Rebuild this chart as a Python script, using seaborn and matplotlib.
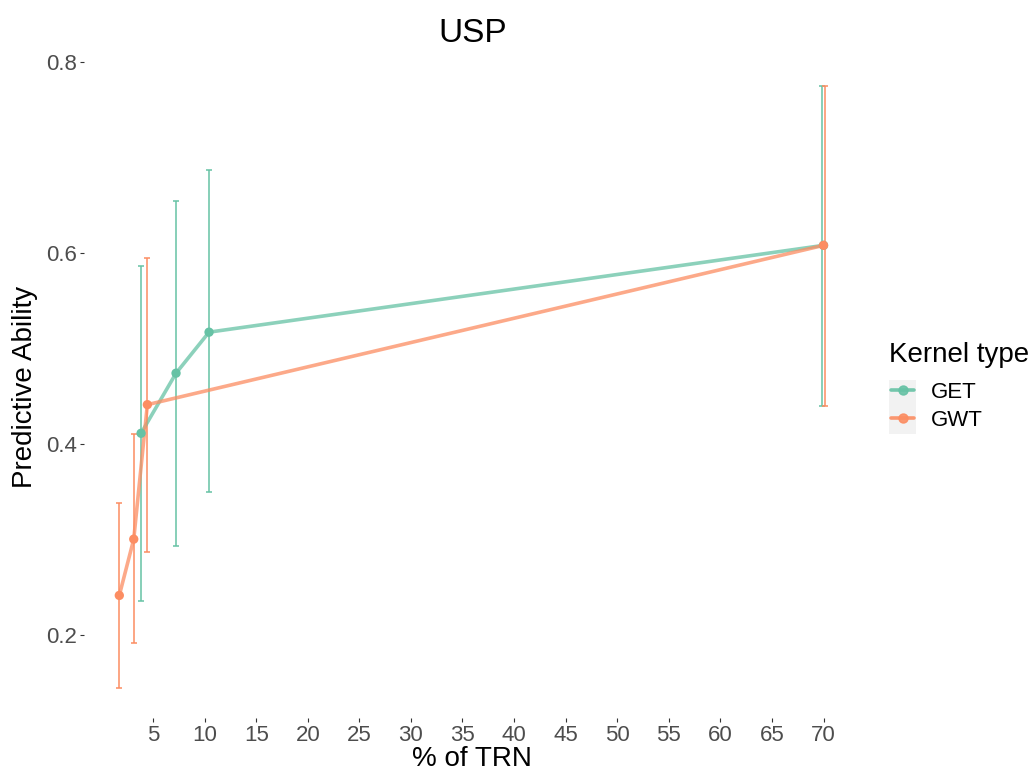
import matplotlib
matplotlib.use("Agg")
import matplotlib.pyplot as plt
from matplotlib.lines import Line2D
from matplotlib.patches import Rectangle
import seaborn as sns
import pandas as pd
import numpy as np

# ---- data ----
kernels = ["GET", "GWT"]
get_x = [3.84, 7.23, 10.43, 70.0]
get_y = [0.411, 0.474, 0.517, 0.608]
get_lo = [0.235, 0.293, 0.349, 0.440]
get_hi = [0.586, 0.655, 0.687, 0.775]
gwt_x = [1.73, 3.13, 4.45, 70.0]
gwt_y = [0.241, 0.300, 0.441, 0.608]
gwt_lo = [0.144, 0.191, 0.286, 0.440]
gwt_hi = [0.338, 0.410, 0.595, 0.775]
x_ticks = [5, 10, 15, 20, 25, 30, 35, 40, 45, 50, 55, 60, 65, 70]
y_ticks = [0.2, 0.4, 0.6, 0.8]
colors = {"GET": "#66C2A5", "GWT": "#FC8D62"}

df = pd.DataFrame({
    "x": get_x + gwt_x,
    "y": get_y + gwt_y,
    "lo": get_lo + gwt_lo,
    "hi": get_hi + gwt_hi,
    "Kernel type": ["GET"] * len(get_x) + ["GWT"] * len(gwt_x),
})

sns.set_theme(style="white")
plt.rcParams["font.family"] = ["Liberation Sans", "DejaVu Sans"]

fig = plt.figure(figsize=(10.32, 7.72), dpi=100)
ax = fig.add_axes([0.0814, 0.0699, 0.7526, 0.8576])

# dodge error bars only where both kernels share an x value
dodge = {"GET": -0.18, "GWT": 0.18}
shared = set(get_x) & set(gwt_x)
for k in kernels:
    sub = df[df["Kernel type"] == k]
    xs = np.array([x + dodge[k] if x in shared else x for x in sub["x"]])
    ax.errorbar(xs, sub["y"],
                yerr=[sub["y"] - sub["lo"], sub["hi"] - sub["y"]],
                fmt="none", ecolor=colors[k], elinewidth=1.3, capsize=2,
                capthick=1.3, alpha=0.85, zorder=1)

sns.lineplot(data=df, x="x", y="y", hue="Kernel type", palette=colors,
             linewidth=2.6, alpha=0.75, ax=ax, legend=False, sort=True,
             estimator=None, zorder=2)
sns.scatterplot(data=df, x="x", y="y", hue="Kernel type", palette=colors,
                s=45, linewidth=0, ax=ax, legend=False, zorder=3)

# ggplot-like expansion
xmin = df["x"].min()
xmax = df["x"].max() + max(dodge.values())
xr = xmax - xmin
ax.set_xlim(xmin - 0.05 * xr, xmax + 0.05 * xr)
ymin, ymax = df["lo"].min(), df["hi"].max()
yr = ymax - ymin
ax.set_ylim(ymin - 0.05 * yr, ymax + 0.05 * yr)

ax.set_xticks(x_ticks)
ax.set_xticklabels([str(v) for v in x_ticks])
ax.set_yticks(y_ticks)
ax.set_yticklabels([f"{v:.1f}" for v in y_ticks])
ax.tick_params(axis="both", which="major", length=3, width=0.8,
               color="#333333", labelcolor="#4D4D4D", labelsize=16, pad=2,
               bottom=True, left=True)
for s in ax.spines.values():
    s.set_visible(False)
ax.grid(False)

ax.set_xlabel("% of TRN", fontsize=20, color="black", labelpad=0)
ax.set_ylabel("Predictive Ability", fontsize=20, color="black", labelpad=6)
ax.set_title("USP", fontsize=24, color="black", pad=10)

# legend
fig.patches.append(Rectangle((889 / 1032, 1 - 434 / 772), 27 / 1032, 54 / 772,
                             transform=fig.transFigure, facecolor="#F2F2F2",
                             edgecolor="none", zorder=0))
fig.text(889 / 1032, 1 - 362 / 772, "Kernel type", fontsize=20,
         color="black", ha="left", va="baseline")
handles = [Line2D([0], [0], color=colors[k], lw=2.6, marker="o",
                  markersize=6.5, alpha=0.9) for k in kernels]
leg = fig.legend(handles, kernels, loc="center left",
                 bbox_to_anchor=(891 / 1032, 1 - 406.5 / 772), frameon=False,
                 fontsize=16, handlelength=1.05, handletextpad=0.75,
                 labelspacing=0.3, borderaxespad=0, borderpad=0)
for t in leg.get_texts():
    t.set_color("black")

fig.savefig("out.png", dpi=100)
